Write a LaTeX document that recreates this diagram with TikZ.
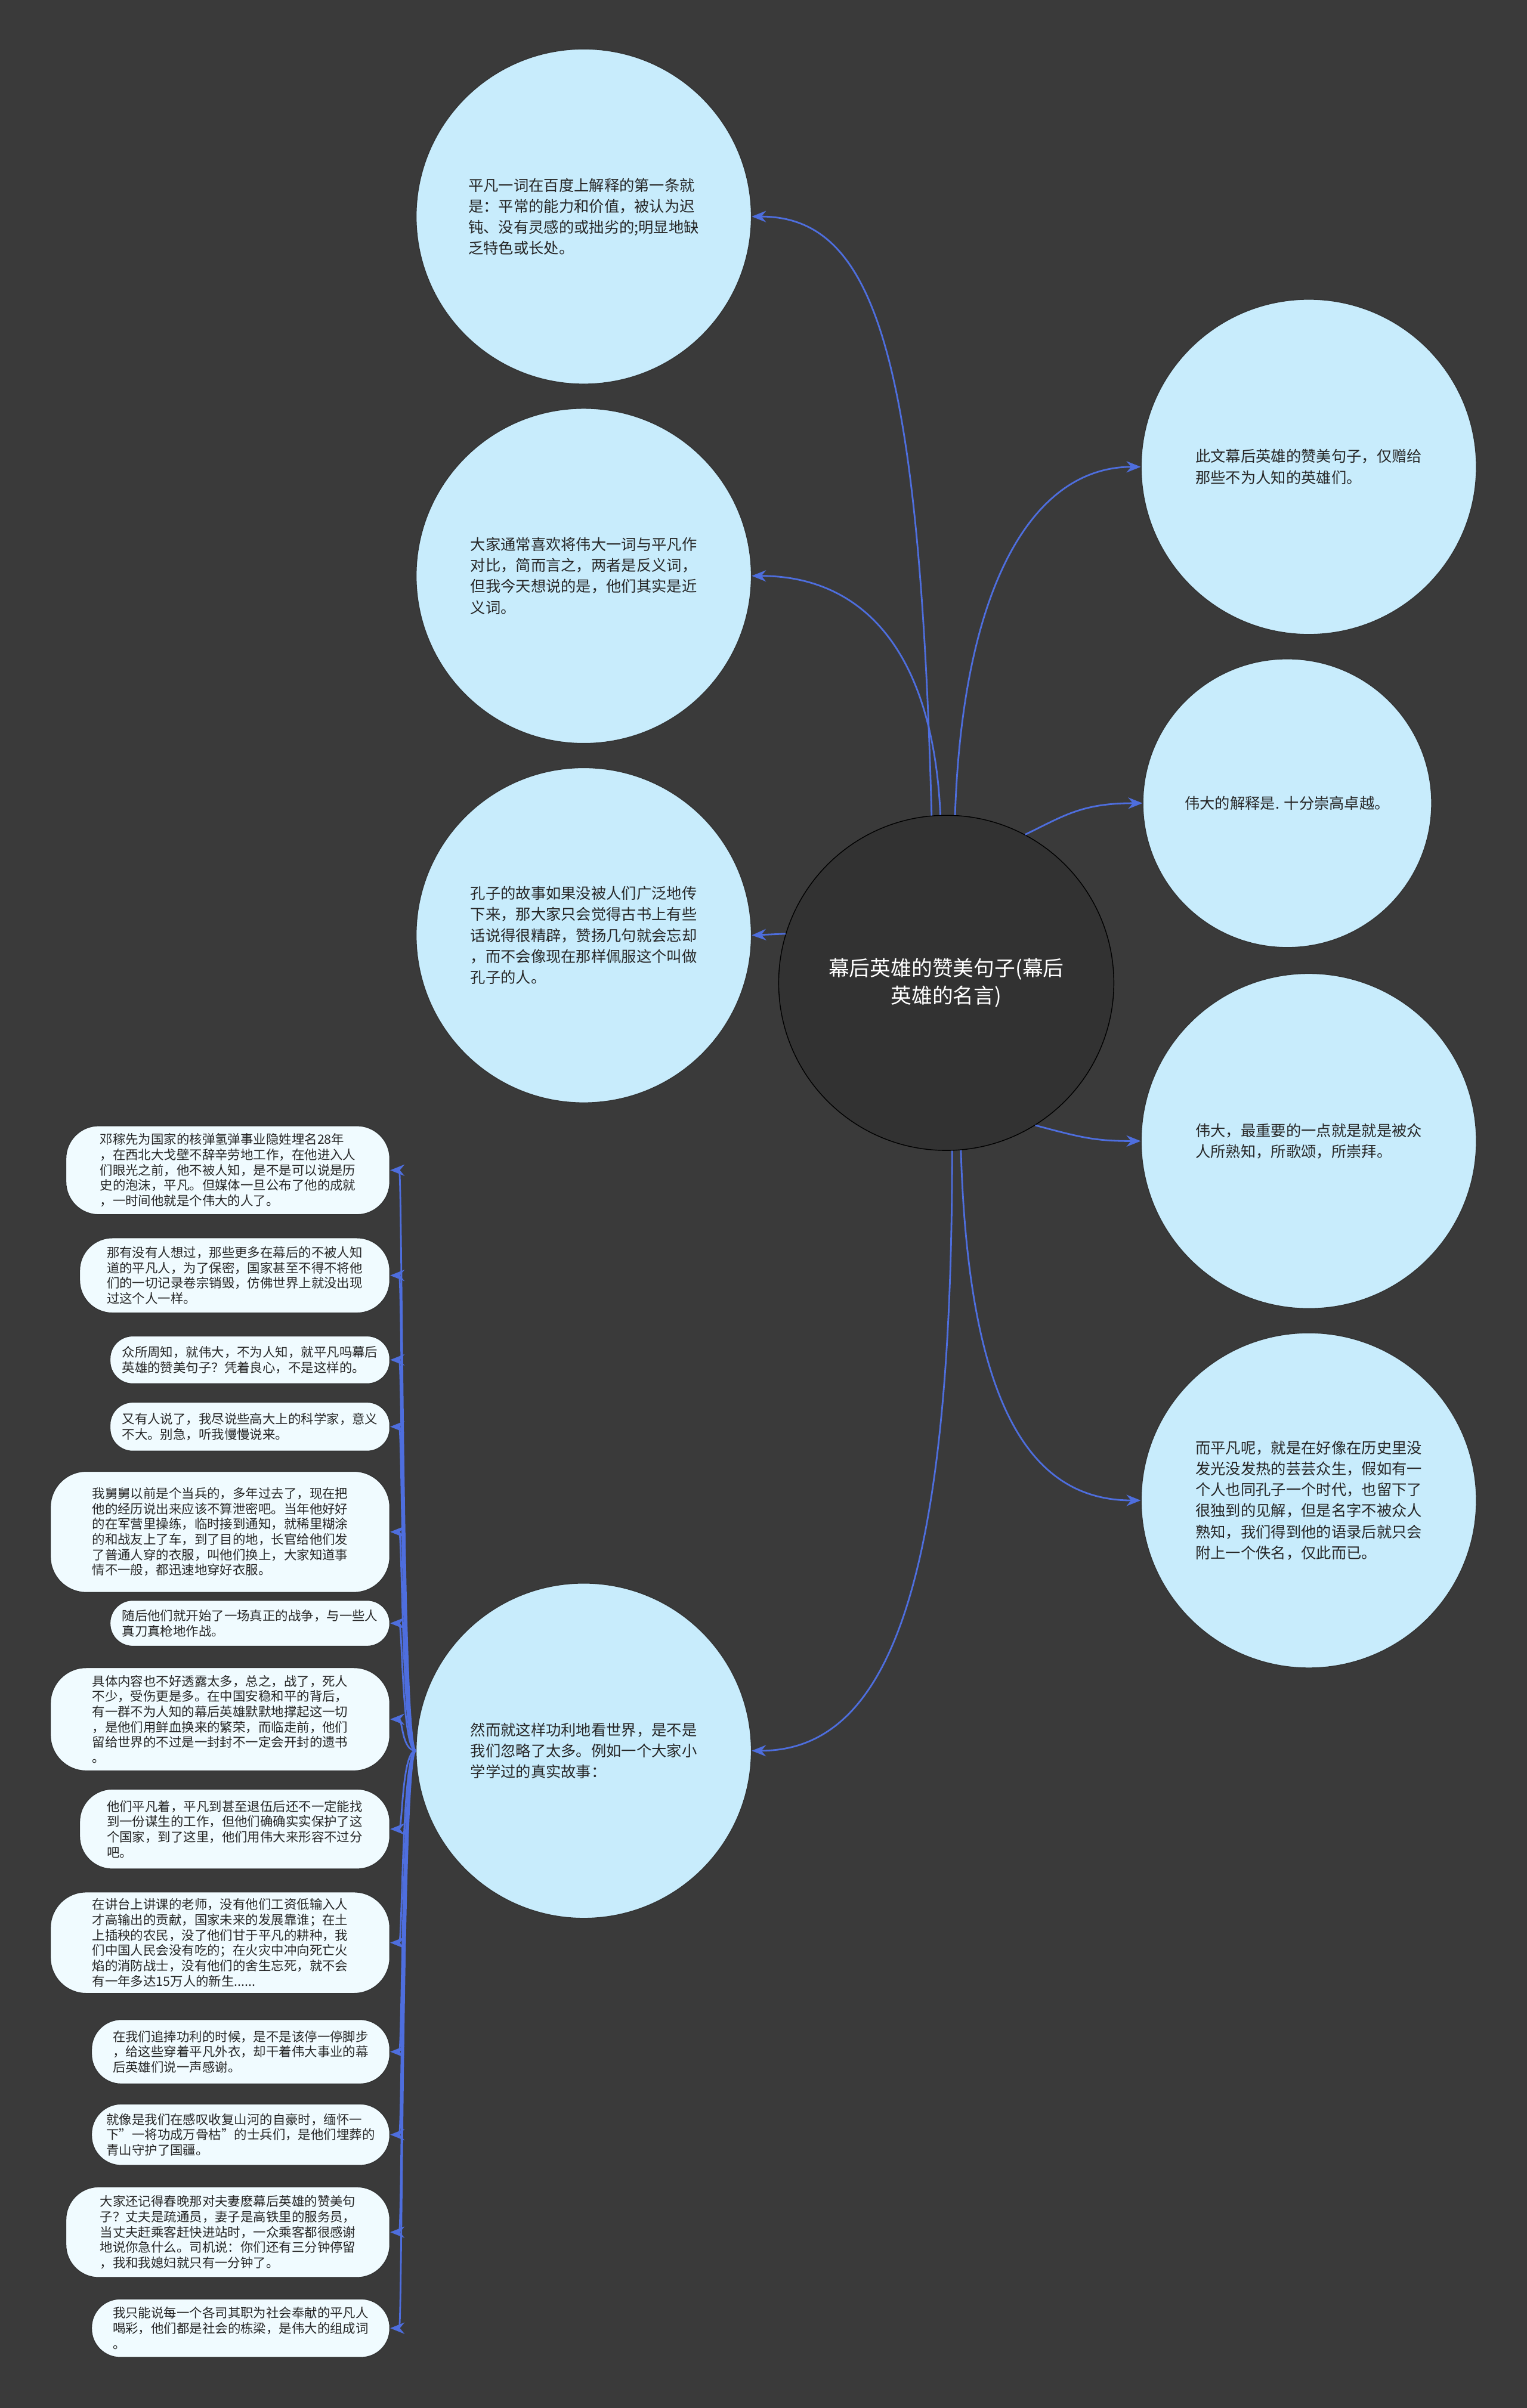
\documentclass[tikz,border=0pt]{standalone}
\usepackage{fontspec}
\setmainfont{Noto Sans CJK SC}
\usetikzlibrary{arrows.meta}
\definecolor{bgcol}{RGB}{58,58,58}
\definecolor{topicfill}{RGB}{50,50,50}
\definecolor{ideafill}{RGB}{200,236,252}
\definecolor{notefill}{RGB}{240,251,255}
\definecolor{linkblue}{RGB}{78,110,222}

\begin{document}
\begin{tikzpicture}[
        x=0.025755cm, y=0.025755cm,
        topic/.style={
            circle,
            draw=black,
            fill=topicfill,
            text=white,
            align=center,
            minimum size=5.62cm,
            font=\fontsize{9.9pt}{13.2pt}\selectfont
        },
        idea/.style={
            circle,
            draw=black!80,
            fill=ideafill,
            text=black!85,
            align=left,
            inner sep=0pt,
            minimum size=5.62cm,
            font=\fontsize{7.2pt}{10pt}\selectfont
        },
        note/.style={
            draw=black!80,
            fill=notefill,
            text=black!85,
            align=left,
            inner sep=0pt,
            anchor=east,
            font=\fontsize{6.1pt}{7.3pt}\selectfont
        },
        link/.style={draw=linkblue, line width=0.8pt, -{Stealth[length=2.4mm, width=1.9mm]}}
    ]
    \path[use as bounding box, fill=bgcol] (0,0) rectangle (994,-1568);

    \node[topic] (T) at (616,-640) {幕后英雄的赞美句子(幕后\\英雄的名言)};

    \node[idea] (L1) at (380,-141) {平凡一词在百度上解释的第一条就\\是：平常的能力和价值，被认为迟\\钝、没有灵感的或拙劣的;明显地缺\\乏特色或长处。};
    \node[idea] (L2) at (380,-375) {大家通常喜欢将伟大一词与平凡作\\对比，简而言之，两者是反义词，\\但我今天想说的是，他们其实是近\\义词。};
    \node[idea] (L3) at (380,-609) {孔子的故事如果没被人们广泛地传\\下来，那大家只会觉得古书上有些\\话说得很精辟，赞扬几句就会忘却\\，而不会像现在那样佩服这个叫做\\孔子的人。};
    \node[idea] (L4) at (380,-1140) {然而就这样功利地看世界，是不是\\我们忽略了太多。例如一个大家小\\学学过的真实故事：};

    \node[idea] (R1) at (852,-304) {此文幕后英雄的赞美句子，仅赠给\\那些不为人知的英雄们。};
    \node[idea, minimum size=4.84cm] (R2) at (838,-523) {伟大的解释是. 十分崇高卓越。};
    \node[idea] (R3) at (852,-743) {伟大，最重要的一点就是就是被众\\人所熟知，所歌颂，所崇拜。};
    \node[idea] (R4) at (852,-977) {而平凡呢，就是在好像在历史里没\\发光没发热的芸芸众生，假如有一\\个人也同孔子一个时代，也留下了\\很独到的见解，但是名字不被众人\\熟知，我们得到他的语录后就只会\\附上一个佚名，仅此而已。};

    \node[note, minimum width=5.43cm, minimum height=1.49cm, rounded corners=0.55cm] (n1) at (254,-762) {邓稼先为国家的核弹氢弹事业隐姓埋名28年\\，在西北大戈壁不辞辛劳地工作，在他进入人\\们眼光之前，他不被人知，是不是可以说是历\\史的泡沫，平凡。但媒体一旦公布了他的成就\\，一时间他就是个伟大的人了。};
    \node[note, minimum width=5.20cm, minimum height=1.26cm, rounded corners=0.55cm] (n2) at (254,-830.5) {那有没有人想过，那些更多在幕后的不被人知\\道的平凡人，为了保密，国家甚至不得不将他\\们的一切记录卷宗销毁，仿佛世界上就没出现\\过这个人一样。};
    \node[note, minimum width=4.69cm, minimum height=0.80cm, rounded corners=0.38cm] (n3) at (254,-885.5) {众所周知，就伟大，不为人知，就平凡吗幕后\\英雄的赞美句子？凭着良心，不是这样的。};
    \node[note, minimum width=4.69cm, minimum height=0.82cm, rounded corners=0.38cm] (n4) at (254,-929) {又有人说了，我尽说些高大上的科学家，意义\\不大。别急，听我慢慢说来。};
    \node[note, minimum width=5.69cm, minimum height=2.03cm, rounded corners=0.6cm] (n5) at (254,-997.5) {我舅舅以前是个当兵的，多年过去了，现在把\\他的经历说出来应该不算泄密吧。当年他好好\\的在军营里操练，临时接到通知，就稀里糊涂\\的和战友上了车，到了目的地，长官给他们发\\了普通人穿的衣服，叫他们换上，大家知道事\\情不一般，都迅速地穿好衣服。};
    \node[note, minimum width=4.69cm, minimum height=0.77cm, rounded corners=0.38cm] (n6) at (254,-1057) {随后他们就开始了一场真正的战争，与一些人\\真刀真枪地作战。};
    \node[note, minimum width=5.69cm, minimum height=1.73cm, rounded corners=0.6cm] (n7) at (254,-1119.5) {具体内容也不好透露太多，总之，战了，死人\\不少，受伤更是多。在中国安稳和平的背后，\\有一群不为人知的幕后英雄默默地撑起这一切\\，是他们用鲜血换来的繁荣，而临走前，他们\\留给世界的不过是一封封不一定会开封的遗书\\。};
    \node[note, minimum width=5.20cm, minimum height=1.34cm, rounded corners=0.55cm] (n8) at (254,-1191) {他们平凡着，平凡到甚至退伍后还不一定能找\\到一份谋生的工作，但他们确确实实保护了这\\个国家，到了这里，他们用伟大来形容不过分\\吧。};
    \node[note, minimum width=5.69cm, minimum height=1.70cm, rounded corners=0.6cm] (n9) at (254,-1265) {在讲台上讲课的老师，没有他们工资低输入人\\才高输出的贡献，国家未来的发展靠谁；在土\\上插秧的农民，没了他们甘于平凡的耕种，我\\们中国人民会没有吃的；在火灾中冲向死亡火\\焰的消防战士，没有他们的舍生忘死，就不会\\有一年多达15万人的新生......};
    \node[note, minimum width=5.0cm, minimum height=1.08cm, rounded corners=0.5cm] (n10) at (254,-1336) {在我们追捧功利的时候，是不是该停一停脚步\\，给这些穿着平凡外衣，却干着伟大事业的幕\\后英雄们说一声感谢。};
    \node[note, minimum width=5.0cm, minimum height=1.03cm, rounded corners=0.5cm] (n11) at (254,-1390) {就像是我们在感叹收复山河的自豪时，缅怀一\\下"一将功成万骨枯"的士兵们，是他们埋葬的\\青山守护了国疆。};
    \node[note, minimum width=5.43cm, minimum height=1.52cm, rounded corners=0.55cm] (n12) at (254,-1453.5) {大家还记得春晚那对夫妻麽幕后英雄的赞美句\\子？丈夫是疏通员，妻子是高铁里的服务员，\\当丈夫赶乘客赶快进站时，一众乘客都很感谢\\地说你急什么。司机说：你们还有三分钟停留\\，我和我媳妇就只有一分钟了。};
    \node[note, minimum width=5.0cm, minimum height=0.98cm, rounded corners=0.48cm] (n13) at (254,-1516) {我只能说每一个各司其职为社会奉献的平凡人\\喝彩，他们都是社会的栋梁，是伟大的组成词\\。};

    \draw[link] (T.95) .. controls +(-8,300) and +(80,0) .. (L1.east);
    \draw[link] (T.92) .. controls +(-5,110) and +(70,0) .. (L2.east);
    \draw[link] (T.163) -- (L3.east);
    \draw[link] (T.-88) .. controls +(0,-280) and +(90,0) .. (L4.east);
    \draw[link] (T.87) .. controls +(5,150) and +(-70,0) .. (R1.west);
    \draw[link] (T.62) .. controls +(25,12) and +(-40,0) .. (R2.west);
    \draw[link] (T.-58) .. controls +(30,-8) and +(-30,0) .. (R3.west);
    \draw[link] (T.-85) .. controls +(5,-170) and +(-70,0) .. (R4.west);

    \foreach \i in {1,...,13}
        \draw[link] (L4.west) .. controls +(-9,0) and +(8,0) .. (n\i.east);
\end{tikzpicture}
\end{document}
